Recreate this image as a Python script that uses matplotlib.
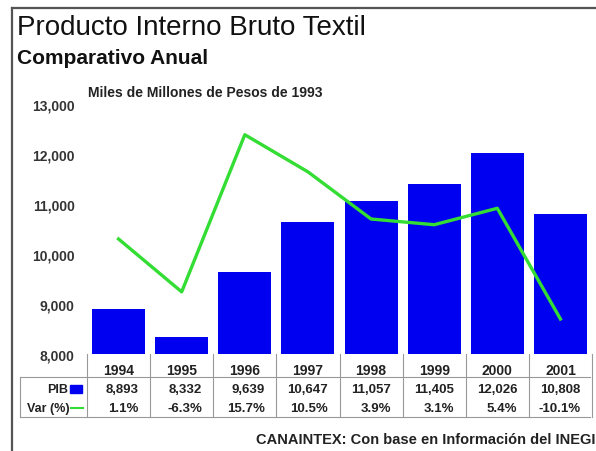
import matplotlib.pyplot as plt
from matplotlib.lines import Line2D
from matplotlib.patches import Rectangle
import matplotlib.transforms as mtransforms

plt.rcParams['font.family'] = ['Liberation Sans', 'DejaVu Sans']

# Data
years = ['1994', '1995', '1996', '1997', '1998', '1999', '2000', '2001']
pib = [8893, 8332, 9639, 10647, 11057, 11405, 12026, 10808]
var = [1.1, -6.3, 15.7, 10.5, 3.9, 3.1, 5.4, -10.1]
pib_labels = ['8,893', '8,332', '9,639', '10,647', '11,057', '11,405', '12,026', '10,808']
var_labels = ['1.1%', '-6.3%', '15.7%', '10.5%', '3.9%', '3.1%', '5.4%', '-10.1%']
yticks = [8000, 9000, 10000, 11000, 12000, 13000]

W, H = 596, 452
bar_color = '#0000f0'
line_color = '#33dd33'
txt = '#222222'

fig = plt.figure(figsize=(W / 100, H / 100), dpi=100)

def fx(px):
    return px / W

def fy(py):
    return 1 - py / H

# outer frame
fig.add_artist(Line2D([fx(12), fx(12)], [fy(9), 0], color='#555555', lw=1.6))
fig.add_artist(Line2D([fx(12), 1], [fy(9), fy(9)], color='#555555', lw=1.6))

# titles
fig.text(fx(17), fy(28), 'Producto Interno Bruto Textil', fontsize=20, color='#111111', va='center')
fig.text(fx(17), fy(58), 'Comparativo Anual', fontsize=15, fontweight='bold', color='#111111', va='center')

# plot area
left, right, top, bottom = 87, 592, 105, 355
ax = fig.add_axes([fx(left), fy(bottom), fx(right) - fx(left), fy(top) - fy(bottom)])
x = list(range(len(years)))
ax.bar(x, pib, width=0.84, color=bar_color, zorder=2)
ax.set_xlim(-0.5, len(years) - 0.5)
ax.set_ylim(8000, 13000)
ax.set_yticks(yticks)
ax.set_yticklabels([f'{v:,}' for v in yticks], fontsize=10, fontweight='bold', color='#333333')
ax.tick_params(axis='y', length=0, pad=9)
ax.set_xticks([])
for s in ax.spines.values():
    s.set_visible(False)

ax2 = ax.twinx()
ax2.plot(x, var, color=line_color, lw=2.4, zorder=3)
ax2.set_ylim(-15, 20)
ax2.set_yticks([])
for s in ax2.spines.values():
    s.set_visible(False)

fig.text(fx(88), fy(93), 'Miles de Millones de Pesos de 1993', fontsize=10, fontweight='bold', color=txt, va='center')

# data table below the axis
tr = mtransforms.blended_transform_factory(ax.transData, ax.transAxes)
ah = bottom - top

def ay(py):
    return (bottom - py) / ah

grid_c = '#999999'
for i in range(len(years) + 1):
    ax.add_line(Line2D([i - 0.5, i - 0.5], [0, ay(418)], transform=tr, color=grid_c, lw=0.8, clip_on=False))
fig.add_artist(Line2D([fx(20), fx(590)], [fy(378), fy(378)], color=grid_c, lw=0.8))
fig.add_artist(Line2D([fx(20), fx(590)], [fy(418), fy(418)], color=grid_c, lw=0.8))
fig.add_artist(Line2D([fx(20), fx(20)], [fy(378), fy(418)], color=grid_c, lw=0.8))

for i, yr in enumerate(years):
    ax.text(i, ay(371), yr, transform=tr, ha='center', va='center', fontsize=10, fontweight='bold', color=txt)
    ax.text(i + 0.32, ay(390), pib_labels[i], transform=tr, ha='right', va='center', fontsize=9.5, fontweight='bold', color=txt)
    ax.text(i + 0.32, ay(409), var_labels[i], transform=tr, ha='right', va='center', fontsize=9.5, fontweight='bold', color=txt)

fig.text(fx(68), fy(390), 'PIB', ha='right', va='center', fontsize=9, fontweight='bold', color=txt)
fig.add_artist(Rectangle((fx(70), fy(394)), fx(12), fy(386) - fy(394), color=bar_color))
fig.text(fx(70), fy(409), 'Var (%)', ha='right', va='center', fontsize=9, fontweight='bold', color=txt)
fig.add_artist(Line2D([fx(71), fx(83)], [fy(409), fy(409)], color=line_color, lw=1.5))

fig.text(fx(595), fy(440), 'CANAINTEX: Con base en Información del INEGI', ha='right', va='center',
         fontsize=10.5, fontweight='bold', color=txt)

fig.savefig('out.png', dpi=100)
